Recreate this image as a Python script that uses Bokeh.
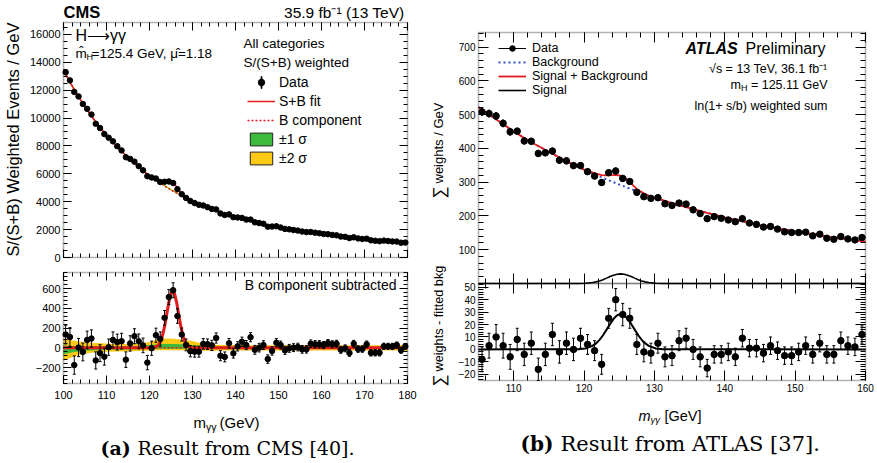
import math
import numpy as np
from bokeh.plotting import figure
from bokeh.models import (Range1d, LinearAxis, SingleIntervalTicker, FixedTicker, Label,
                          Legend, LegendItem, ColumnDataSource, Whisker, TeeHead,
                          BoxAnnotation)
from bokeh.layouts import row
from bokeh.embed import file_html
from bokeh.resources import INLINE

SANS = "Liberation Sans"
SERIF = "DejaVu Serif"
RED = "#e41a1c"
GREEN = "#3cba3c"
YELLOW = "#fcc917"
BLUE = "#3553c6"

# ---------------- CMS (left) ----------------
cms_x = [100.5, 101.5, 102.5, 103.5, 104.5, 105.5, 106.5, 107.5, 108.5, 109.5,
         110.5, 111.5, 112.5, 113.5, 114.5, 115.5, 116.5, 117.5, 118.5, 119.5,
         120.5, 121.5, 122.5, 123.5, 124.5, 125.5, 126.5, 127.5, 128.5, 129.5,
         130.5, 131.5, 132.5, 133.5, 134.5, 135.5, 136.5, 137.5, 138.5, 139.5,
         140.5, 141.5, 142.5, 143.5, 144.5, 145.5, 146.5, 147.5, 148.5, 149.5,
         150.5, 151.5, 152.5, 153.5, 154.5, 155.5, 156.5, 157.5, 158.5, 159.5,
         160.5, 161.5, 162.5, 163.5, 164.5, 165.5, 166.5, 167.5, 168.5, 169.5,
         170.5, 171.5, 172.5, 173.5, 174.5, 175.5, 176.5, 177.5, 178.5, 179.5]
cms_data = [13280, 12700, 11870, 11550, 11010, 10660, 10250, 9590, 9280, 8850,
            8590, 8330, 7980, 7680, 7190, 7070, 6870, 6550, 6250, 5830,
            5740, 5660, 5410, 5430, 5450, 5340, 4900, 4540, 4270, 4050,
            3900, 3780, 3730, 3610, 3480, 3450, 3160, 3050, 3090, 2890,
            2870, 2840, 2720, 2720, 2520, 2470, 2420, 2210, 2220, 2240,
            2150, 2050, 2020, 1970, 1930, 1860, 1820, 1830, 1780, 1740,
            1690, 1670, 1620, 1590, 1500, 1480, 1390, 1450, 1370, 1330,
            1350, 1230, 1200, 1170, 1210, 1180, 1150, 1140, 1060, 1070]
cms_resid = [135, 110, -175, 3, -42, 80, 95, -128, -54, -90,
             7, 80, 58, 68, -120, 45, 118, 66, 25, -150,
             -4, 128, 90, 305, 515, 585, 323, 135, 30, -34,
             -39, -39, 40, 37, 25, 100, -80, -92, 46, -56,
             15, 62, 28, 108, -20, 2, 28, -114, -32, 52,
             28, -25, -5, 2, 8, -15, -15, 42, 36, 36,
             28, 48, 36, 42, -20, -5, -52, 42, -12, -12,
             36, -50, -50, -50, 15, 15, 15, 28, -25, 15]
cms_err = [95, 95, 93, 92, 90, 90, 88, 87, 86, 85,
           83, 82, 81, 80, 79, 78, 76, 75, 74, 73,
           72, 72, 72, 74, 76, 76, 74, 66, 60, 57,
           56, 55, 54, 53, 52, 52, 51, 50, 49, 48,
           47, 47, 46, 46, 45, 44, 44, 43, 42, 42,
           41, 41, 40, 40, 39, 39, 38, 38, 37, 37,
           36, 36, 36, 35, 35, 35, 34, 34, 34, 33,
           33, 33, 32, 32, 32, 31, 31, 31, 30, 30]
# background (B component) curve and uncertainty bands
cms_b_x = [100, 102.5, 105, 107.5, 110, 112.5, 115, 117.5, 120, 122.5, 125, 127.5, 130,
           132.5, 135, 137.5, 140, 142.5, 145, 147.5, 150, 152.5, 155, 157.5, 160,
           162.5, 165, 167.5, 170, 172.5, 175, 177.5, 180]
cms_b_y = [13420, 12040, 10800, 9720, 8750, 7920, 7160, 6480, 5850, 5320, 4840, 4400, 4000,
           3690, 3400, 3140, 2900, 2690, 2500, 2320, 2150, 2020, 1900, 1790, 1680,
           1580, 1500, 1410, 1330, 1250, 1180, 1110, 1040]
cms_g_hi = [25, 20, 18, 18, 18, 17, 17, 20, 28, 40, 40, 36, 28, 18, 15, 14, 14, 13, 13, 12,
            12, 12, 12, 12, 12, 12, 12, 12, 12, 12, 12, 13, 14]
cms_g_lo = [-65, -42, -30, -24, -20, -18, -17, -15, -12, -8, -8, -8, -10, -14, -15, -14, -13,
            -13, -13, -12, -12, -12, -12, -12, -12, -12, -12, -12, -12, -12, -12, -13, -14]
cms_y_hi = [95, 72, 58, 48, 44, 40, 40, 45, 60, 95, 95, 85, 70, 42, 32, 30, 28, 27, 27, 26,
            26, 26, 26, 26, 26, 26, 26, 26, 26, 26, 27, 28, 30]
cms_y_lo = [-130, -85, -58, -45, -40, -36, -35, -32, -28, -25, -25, -25, -26, -30, -30, -28,
            -27, -26, -26, -26, -26, -26, -26, -26, -26, -26, -26, -26, -26, -26, -27, -28, -30]
# S+B fit curve
cms_sb_x = [100, 102.5, 105, 107.5, 110, 112.5, 115, 117.5, 120,
            121, 122, 122.5, 123, 123.5, 124, 124.5, 125, 125.4, 125.8, 126.3, 126.8, 127.3,
            127.8, 128.3, 128.8, 129.8, 130.8,
            132.5, 135, 137.5, 140, 142.5, 145, 147.5, 150, 152.5, 155, 157.5, 160,
            162.5, 165, 167.5, 170, 172.5, 175, 177.5, 180]
cms_sb_y = [13420, 12040, 10800, 9720, 8750, 7920, 7160, 6480, 5850,
            5641, 5450, 5378, 5343, 5343, 5371, 5400, 5395, 5350, 5254, 5075, 4862, 4650,
            4471, 4330, 4216, 4035, 3901,
            3690, 3400, 3140, 2900, 2690, 2500, 2320, 2150, 2020, 1900, 1790, 1680,
            1580, 1500, 1410, 1330, 1250, 1180, 1110, 1040]
# signal component (B subtracted)
cms_sig_x = [100, 118, 120, 121, 122, 122.5, 123, 123.5, 124, 124.5, 125, 125.4, 125.8,
             126.3, 126.8, 127.3, 127.8, 128.3, 128.8, 129.8, 131, 180]
cms_sig_y = [0, 0, 1, 3, 24, 58, 119, 215, 339, 464, 555, 580, 555,
             464, 339, 215, 119, 58, 24, 3, 0, 0]

# ---------------- ATLAS (right) ----------------
atlas_x = [105.5, 106.5, 107.5, 108.5, 109.5, 110.5, 111.5, 112.5, 113.5, 114.5,
           115.5, 116.5, 117.5, 118.5, 119.5, 120.5, 121.5, 122.5, 123.5, 124.5,
           125.5, 126.5, 127.5, 128.5, 129.5, 130.5, 131.5, 132.5, 133.5, 134.5,
           135.5, 136.5, 137.5, 138.5, 139.5, 140.5, 141.5, 142.5, 143.5, 144.5,
           145.5, 146.5, 147.5, 148.5, 149.5, 150.5, 151.5, 152.5, 153.5, 154.5,
           155.5, 156.5, 157.5, 158.5, 159.5]
atlas_data = [508, 503, 496, 474, 449, 451, 422, 421, 385, 387,
              392, 365, 363, 349, 349, 331, 318, 299, 328, 333,
              311, 302, 270, 257, 252, 254, 236, 231, 238, 235,
              218, 207, 192, 198, 193, 188, 183, 192, 179, 175,
              167, 169, 161, 153, 151, 151, 152, 141, 146, 134,
              131, 139, 132, 129, 136]
atlas_resid = [-8, 3, 10, 3, -6, 8, -4, 5, -16, -4,
               12, -2, 5, 0, 9, 4, -1, -12, 25, 40,
               28, 25, 4, -2, -3, 5, -6, -5, 7, 9,
               0, -6, -15, -4, -4, -2, -6, 9, 1, 1,
               -3, 3, -1, -5, -5, -2, 3, -4, 5, -4,
               -4, 7, 3, 2, 12]
atlas_err = [10, 10, 10, 10, 10, 9, 9, 9, 9, 9,
             9, 9, 9, 9, 8, 8, 8, 8, 8, 9,
             9, 8, 8, 8, 8, 8, 8, 8, 8, 8,
             8, 8, 7, 7, 7, 7, 7, 7, 7, 7,
             7, 7, 7, 7, 7, 7, 7, 7, 7, 7,
             7, 7, 7, 7, 7]
atlas_b_x = [105, 107.5, 110, 112.5, 115, 117.5, 120, 122.5, 125, 127.5, 130, 132.5,
             135, 137.5, 140, 142.5, 145, 147.5, 150, 152.5, 155, 157.5, 160]
atlas_b_y = [522, 486, 450, 418, 390, 362, 337, 314, 293, 273, 254, 238,
             223, 209, 196, 184, 173, 163, 154, 146, 138, 131, 124]
atlas_sb_x = [105, 107.5, 110, 112.5, 115, 117.5, 120,
              121, 122, 122.5, 123, 123.5, 124, 124.5, 125, 125.5, 126, 126.5, 127, 127.5,
              128, 128.5, 129, 130,
              132.5, 135, 137.5, 140, 142.5, 145, 147.5, 150, 152.5, 155, 157.5, 160]
atlas_sb_y = [522, 486, 450, 418, 390, 362, 337,
              330, 324, 321, 320, 320, 321, 321, 320, 317, 310, 300, 290, 280,
              273, 267, 262, 255,
              238, 223, 209, 196, 184, 173, 163, 154, 146, 138, 131, 124]
atlas_sig_x = [105, 119.2, 120.2, 121.2, 121.7, 122.2, 122.7, 123.2, 123.7, 124.2, 124.7,
               125.2, 125.7, 126.2, 126.7, 127.2, 127.7, 128.2, 128.7, 129.2, 130.2, 131.2, 160]
atlas_sig_y = [0, 0.2, 0.7, 2.8, 4.8, 7.7, 11.4, 15.9, 20.5, 24.6, 27.5,
               28.5, 27.5, 24.6, 20.5, 15.9, 11.4, 7.7, 4.8, 2.8, 0.7, 0.2, 0]

# axis ranges
CMS_X = (100, 180)
CMS_MAIN_Y = (0, 16850)
CMS_RES_Y = (-362, 765)
ATLAS_X = (105, 160)
ATLAS_MAIN_Y = (0, 743)
ATLAS_RES_Y = (-25, 53)

NAN = np.array([np.nan])


def x_span(vl, vr, pl, pr, W):
    k = (pr - pl) / (vr - vl)
    return (vl - pl / k, vr + (W - pr) / k)


def y_span(vb, vt, pb, pt, H):
    k = (pb - pt) / (vt - vb)
    return (vb - (H - pb) / k, vt + pt / k)


def make_fig(W, H, xr, yr):
    p = figure(width=W, height=H, x_range=Range1d(*xr), y_range=Range1d(*yr),
               output_backend="svg", toolbar_location=None,
               x_axis_location=None, y_axis_location=None,
               min_border_left=0, min_border_right=0, min_border_top=0, min_border_bottom=0)
    p.xgrid.visible = False
    p.ygrid.visible = False
    p.outline_line_color = None
    p.background_fill_color = "white"
    p.border_fill_color = "white"
    return p


def region(p, xr, yr, xticker, yticker, show_x, show_y, fs, tmaj, tmin,
           xstand, ystand, rname="default"):
    xl, xh = xr
    yl, yh = yr
    specs = [("below", yl, xticker(), (xl, xh), show_x, xstand),
             ("above", yh, xticker(), (xl, xh), False, 0),
             ("left", xl, yticker(), (yl, yh), show_y, ystand),
             ("right", xh, yticker(), (yl, yh), False, 0)]
    for side, loc, tk, bnds, show, stand in specs:
        ax = LinearAxis(ticker=tk, fixed_location=loc, bounds=bnds, y_range_name=rname)
        ax.axis_line_color = None
        ax.major_tick_in = tmaj
        ax.major_tick_out = 0
        ax.minor_tick_in = tmin
        ax.minor_tick_out = 0
        ax.major_tick_line_color = "black"
        ax.minor_tick_line_color = "black"
        ax.axis_label = None
        if show:
            ax.major_label_text_font = SANS
            ax.major_label_text_font_size = f"{fs}px"
            ax.major_label_text_font_style = "normal"
            ax.major_label_text_color = "black"
            ax.major_label_standoff = stand
        else:
            ax.major_label_text_color = None
            ax.major_label_text_alpha = 0
        p.add_layout(ax, side)
    p.add_layout(BoxAnnotation(left=xl, right=xh, bottom=yl, top=yh, y_range_name=rname,
                               fill_color=None, line_color="black", line_width=1.6))


def lab(p, x, y, text, size, font=SANS, style="normal", align="left",
        baseline="middle", angle=0.0, color="black"):
    p.add_layout(Label(x=x, y=y, x_units="canvas", y_units="canvas", text=text,
                       text_font=font, text_font_size=f"{size}px", text_font_style=style,
                       text_align=align, text_baseline=baseline, angle=angle,
                       text_color=color))


def errbars(p, xs, ys, errs, head, rname="default"):
    src = ColumnDataSource(dict(x=xs, lo=np.array(ys) - np.array(errs),
                                hi=np.array(ys) + np.array(errs)))
    p.add_layout(Whisker(source=src, base="x", lower="lo", upper="hi", y_range_name=rname,
                         line_color="black", line_width=1, level="glyph",
                         lower_head=TeeHead(size=head, line_color="black", line_width=1),
                         upper_head=TeeHead(size=head, line_color="black", line_width=1)))


# ================= CMS figure =================
W1, H1 = 420, 463
p1 = make_fig(W1, H1, x_span(*CMS_X, 63, 407, W1), y_span(*CMS_MAIN_Y, 257, 22, H1))
p1.extra_y_ranges = {"res": Range1d(*y_span(*CMS_RES_Y, 383, 272, H1))}
region(p1, CMS_X, CMS_MAIN_Y,
       lambda: SingleIntervalTicker(interval=10, num_minor_ticks=5),
       lambda: SingleIntervalTicker(interval=2000, num_minor_ticks=4),
       False, True, 11, 8, 4, 0, 3)
region(p1, CMS_X, CMS_RES_Y,
       lambda: SingleIntervalTicker(interval=10, num_minor_ticks=5),
       lambda: SingleIntervalTicker(interval=200, num_minor_ticks=5),
       True, True, 11, 8, 4, 7, 3, rname="res")

# main panel
bx = np.array(cms_b_x)
by = np.array(cms_b_y)
p1.varea(x=bx, y1=by + np.array(cms_y_lo), y2=by + np.array(cms_y_hi), fill_color=YELLOW)
p1.varea(x=bx, y1=by + np.array(cms_g_lo), y2=by + np.array(cms_g_hi), fill_color=GREEN)
r_b = p1.line(cms_b_x, cms_b_y, line_color=RED, line_width=1.5, line_dash="2 2")
r_sb = p1.line(cms_sb_x, cms_sb_y, line_color=RED, line_width=1.5)
errbars(p1, cms_x, cms_data, cms_err, 2)
r_dot = p1.scatter(cms_x, cms_data, size=5.5, marker="circle", fill_color="black",
                   line_color="black")
r_bar = p1.ellipse(x=NAN, y=NAN, width=1.4, height=14, width_units="screen",
                   height_units="screen", fill_color="black", line_color="black")
r_g = p1.quad(left=NAN, right=NAN, top=NAN, bottom=NAN, fill_color=GREEN,
              line_color="#222222", line_width=1)
r_y = p1.quad(left=NAN, right=NAN, top=NAN, bottom=NAN, fill_color=YELLOW,
              line_color="#222222", line_width=1)

# residual panel
p1.varea(x=cms_b_x, y1=cms_y_lo, y2=cms_y_hi, fill_color=YELLOW, y_range_name="res")
p1.varea(x=cms_b_x, y1=cms_g_lo, y2=cms_g_hi, fill_color=GREEN, y_range_name="res")
p1.line(cms_sig_x, cms_sig_y, line_color=RED, line_width=3, y_range_name="res")
p1.line([CMS_X[0], CMS_X[1]], [0, 0], line_color=RED, line_width=1.5, line_dash="2 2",
        y_range_name="res")
errbars(p1, cms_x, cms_resid, cms_err, 3, rname="res")
p1.scatter(cms_x, cms_resid, size=5.5, marker="circle", fill_color="black",
           line_color="black", y_range_name="res")

leg1 = Legend(items=[LegendItem(label="Data", renderers=[r_bar, r_dot]),
                     LegendItem(label="S+B fit", renderers=[r_sb]),
                     LegendItem(label="B component", renderers=[r_b]),
                     LegendItem(label="±1 σ", renderers=[r_g]),
                     LegendItem(label="±2 σ", renderers=[r_y])],
              location=(247, H1 - 166), border_line_color=None, background_fill_alpha=0,
              padding=0, margin=0, spacing=3, label_height=16, glyph_height=16,
              glyph_width=28, label_standoff=4, label_text_font=SANS,
              label_text_font_size="14px", label_text_color="black")
p1.add_layout(leg1)

lab(p1, 63, 11, "CMS", 16.5, style="bold")
lab(p1, 404, 12, "35.9 fb⁻¹ (13 TeV)", 15.5, align="right")
lab(p1, 75, 35, "H⟶γγ", 16)
lab(p1, 75, 53, "m̂", 13.5)
lab(p1, 86, 56, "H", 9)
lab(p1, 91, 53, "=125.4 GeV, μ̂=1.18", 13.5)
lab(p1, 243, 43, "All categories", 13.5)
lab(p1, 243, 62, "S/(S+B) weighted", 13.5)
lab(p1, 12, 139, "S/(S+B) Weighted Events / GeV", 16.5, align="center", angle=math.pi / 2)
lab(p1, 396, 284, "B component subtracted", 14, align="right")
lab(p1, 193, 422, "m", 15)
lab(p1, 205.5, 426, "γγ", 10.5)
lab(p1, 219, 422, "(GeV)", 15)
lab(p1, 100, 447, "(a)", 19, font=SERIF, style="bold")
lab(p1, 137, 447, "Result from CMS [40].", 19, font=SERIF)

# ================= ATLAS figure =================
W2, H2 = 457, 463
p2 = make_fig(W2, H2, x_span(*ATLAS_X, 58, 445, W2), y_span(*ATLAS_MAIN_Y, 283, 32, H2))
p2.extra_y_ranges = {"res": Range1d(*y_span(*ATLAS_RES_Y, 380, 283, H2))}
region(p2, ATLAS_X, ATLAS_MAIN_Y,
       lambda: SingleIntervalTicker(interval=10, num_minor_ticks=5),
       lambda: FixedTicker(ticks=[100, 200, 300, 400, 500, 600, 700],
                           minor_ticks=list(range(0, 744, 20))),
       False, True, 10, 10, 5, 0, 3)
region(p2, ATLAS_X, ATLAS_RES_Y,
       lambda: SingleIntervalTicker(interval=10, num_minor_ticks=5),
       lambda: SingleIntervalTicker(interval=10, num_minor_ticks=5),
       True, True, 10, 10, 5, 3, 3, rname="res")

# main panel
r_ab = p2.line(atlas_b_x, atlas_b_y, line_color=BLUE, line_width=2, line_dash="2 3")
r_asb = p2.line(atlas_sb_x, atlas_sb_y, line_color=RED, line_width=1.8)
r_as = p2.line(atlas_sig_x, atlas_sig_y, line_color="black", line_width=1.6)
errbars(p2, atlas_x, atlas_data, atlas_err, 2)
r_adot = p2.scatter(atlas_x, atlas_data, size=6.5, marker="circle", fill_color="black",
                    line_color="black")
r_aline = p2.line(x=NAN, y=NAN, line_color="black", line_width=1)

# residual panel
p2.line(atlas_sig_x, atlas_sig_y, line_color="black", line_width=2, y_range_name="res")
errbars(p2, atlas_x, atlas_resid, atlas_err, 3, rname="res")
p2.scatter(atlas_x, atlas_resid, size=6.5, marker="circle", fill_color="black",
           line_color="black", y_range_name="res")

leg2 = Legend(items=[LegendItem(label="Data", renderers=[r_aline, r_adot]),
                     LegendItem(label="Background", renderers=[r_ab]),
                     LegendItem(label="Signal + Background", renderers=[r_asb]),
                     LegendItem(label="Signal", renderers=[r_as])],
              location=(78, H2 - 97), border_line_color=None, background_fill_alpha=0,
              padding=0, margin=0, spacing=0, label_height=14, glyph_height=14,
              glyph_width=28, label_standoff=6, label_text_font=SANS,
              label_text_font_size="12.5px", label_text_color="black")
p2.add_layout(leg2)

lab(p2, 265, 48, "ATLAS", 16, style="bold italic")
lab(p2, 325, 48, "Preliminary", 16)
lab(p2, 407, 68, "√s = 13 TeV, 36.1 fb⁻¹", 12.5, align="right")
lab(p2, 407, 84, "= 125.11 GeV", 12.5, align="right")
lab(p2, 327, 87, "H", 9, align="right")
lab(p2, 320.5, 84, "m", 12.5, align="right")
lab(p2, 407, 105, "ln(1+ s/b) weighted sum", 12.5, align="right")
lab(p2, 19, 192, "∑", 17, align="center", angle=math.pi / 2)
lab(p2, 18, 183, "weights / GeV", 13, align="left", angle=math.pi / 2)
lab(p2, 19, 380, "∑", 17, align="center", angle=math.pi / 2)
lab(p2, 18, 371, "weights - fitted bkg", 12.7, align="left", angle=math.pi / 2)
lab(p2, 218, 415, "m", 14.5, style="italic")
lab(p2, 230, 419, "γγ", 9.5, style="italic")
lab(p2, 244, 415, "[GeV]", 14.5)
lab(p2, 100, 443, "(b)", 20, font=SERIF, style="bold")
lab(p2, 140, 443, "Result from ATLAS [37].", 21, font=SERIF)

layout = row(p1, p2)
open("out.html", "w").write(file_html(layout, INLINE, "Higgs diphoton"))
